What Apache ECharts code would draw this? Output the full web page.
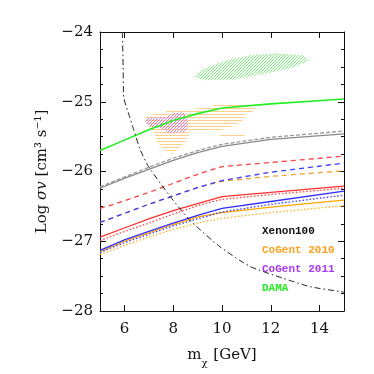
<!DOCTYPE html>
<html>
<head>
<meta charset="utf-8">
<script src="https://cdn.jsdelivr.net/npm/echarts@6/dist/echarts.min.js"></script>
<style>
  html, body { margin: 0; padding: 0; background: #fff; }
  #chart { width: 374px; height: 374px; }
</style>
</head>
<body>
<div id="chart"></div>
<script>
  var mass = [5, 6, 7, 8, 9, 10, 12, 15];
  var xTicks = [6, 8, 10, 12, 14];

  // log sigma v curves
  var greenSolid  = [-25.70, -25.55, -25.40, -25.27, -25.17, -25.09, -25.03, -24.96];
  var grayDashed  = [-26.22, -26.08, -25.94, -25.81, -25.70, -25.61, -25.51, -25.42];
  var graySolid   = [-26.24, -26.10, -25.97, -25.84, -25.73, -25.64, -25.54, -25.46];
  var redDashed   = [-26.53, -26.42, -26.30, -26.17, -26.04, -25.93, -25.87, -25.78];
  var blueDashed  = [-26.73, -26.60, -26.47, -26.35, -26.23, -26.13, -26.01, -25.88];
  var orangeDashed= [-26.73, -26.60, -26.47, -26.35, -26.23, -26.14, -26.07, -25.99];
  var redSolid    = [-26.94, -26.81, -26.68, -26.56, -26.46, -26.36, -26.30, -26.21];
  var redDotted   = [-26.99, -26.86, -26.74, -26.61, -26.49, -26.40, -26.33, -26.24];
  var blueSolid   = [-27.13, -26.98, -26.86, -26.74, -26.63, -26.53, -26.43, -26.28];
  var blueDotted  = [-27.16, -27.02, -26.90, -26.78, -26.68, -26.58, -26.47, -26.34];
  var orangeSolid = [-27.15, -27.00, -26.88, -26.76, -26.65, -26.59, -26.51, -26.41];
  var orangeDotted= [-27.19, -27.06, -26.94, -26.83, -26.74, -26.67, -26.59, -26.49];

  // dash-dot bound
  var ddX = [5.92, 5.95, 5.98, 6.2, 6.38, 6.65, 6.99, 7.88, 8.69, 9.92, 11.14, 12.5, 13.59, 14.82, 15];
  var ddY = [-24.0, -24.5, -24.95, -25.2, -25.40, -25.69, -25.93, -26.36, -26.70, -27.08, -27.36, -27.53, -27.65, -27.72, -27.73];

  // hatched regions [mass, log sigma v]
  var damaRegion = [[8.87, -24.65], [9.31, -24.69], [10.53, -24.68], [11.88, -24.59], [12.98, -24.50],
    [13.59, -24.40], [13.25, -24.33], [12.16, -24.305], [11.21, -24.33], [10.25, -24.40], [9.43, -24.50], [9.02, -24.57]];
  var cogent2010Region = [[9.84, -25.03], [10.94, -25.03], [11.39, -25.075], [11.35, -25.13], [10.94, -25.19],
    [10.82, -25.28], [10.41, -25.35], [9.84, -25.42], [8.69, -25.43], [8.57, -25.55], [8.29, -25.65],
    [7.96, -25.75], [7.71, -25.72], [7.39, -25.59], [7.14, -25.41], [6.90, -25.31], [6.82, -25.23],
    [7.06, -25.19], [7.67, -25.15], [7.80, -25.12], [8.90, -25.10], [9.59, -25.06]];
  var cogent2010Bit = [[9.92, -25.475], [10.94, -25.475], [10.94, -25.52], [9.92, -25.52]];
  var cogent2011Region = [[6.90, -25.23], [7.67, -25.22], [8.08, -25.16], [8.41, -25.15], [8.57, -25.20],
    [8.61, -25.35], [8.49, -25.43], [7.80, -25.45], [7.47, -25.38], [6.98, -25.35], [6.86, -25.29]];

  var legendNames = ['Xenon100', 'CoGent 2010', 'CoGent 2011', 'DAMA'];
  var legendColors = ['#111111', '#ffa020', '#a838f0', '#22ee22'];

  function pairs(arr) {
    return mass.map(function (m, i) { return [m, arr[i]]; });
  }

  // small tile for the hatch fill, drawn pixel by pixel
  function hatch(color, kind) {
    var c = document.createElement('canvas');
    var ctx = c.getContext('2d');
    ctx.fillStyle = color;
    if (kind === 'h') {
      c.width = 4; c.height = 3;
      ctx.fillStyle = color;
      ctx.fillRect(0, 0, 4, 1);
    } else {
      c.width = 3; c.height = 3;
      ctx.fillStyle = color;
      for (var i = 0; i < 3; i++) ctx.fillRect(i, 2 - i, 1, 1);
    }
    return { image: c, repeat: 'repeat' };
  }

  function region(pts, fill) {
    return {
      type: 'custom',
      silent: true,
      data: [[pts[0][0], pts[0][1]]],
      renderItem: function (params, api) {
        return {
          type: 'polygon',
          shape: { points: pts.map(function (p) { return api.coord(p); }) },
          style: { fill: fill, stroke: null }
        };
      }
    };
  }

  function line(arr, color, type, width) {
    return {
      type: 'line',
      data: pairs(arr),
      showSymbol: false,
      silent: true,
      lineStyle: { color: color, type: type, width: width || 1.3 },
      z: 3
    };
  }

  var chart = echarts.init(document.getElementById('chart'));
  var serif = 'DejaVu Serif';

  chart.setOption({
    animation: false,
    backgroundColor: '#fff',
    grid: { left: 100, right: 30, top: 32, bottom: 63 },
    xAxis: [{
      type: 'value', min: 5, max: 15,
      name: '{m|m}{s|χ}{m| [GeV]}',
      nameLocation: 'middle', nameGap: 32,
      nameTextStyle: {
        rich: {
          m: { fontFamily: serif, fontSize: 15, color: '#111', lineHeight: 20, verticalAlign: 'bottom' },
          s: { fontFamily: serif, fontSize: 10, color: '#111', lineHeight: 20, verticalAlign: 'bottom', padding: [0, 1, -5, 0] }
        }
      },
      axisLine: { lineStyle: { color: '#111', width: 1 } },
      axisTick: { inside: true, length: 6, customValues: xTicks, lineStyle: { color: '#111' } },
      axisLabel: { customValues: xTicks, fontFamily: serif, fontSize: 15, color: '#111', margin: 11 },
      splitLine: { show: false }
    }, {
      type: 'value', min: 5, max: 15, position: 'top',
      axisLine: { lineStyle: { color: '#111', width: 1 } },
      axisTick: { inside: true, length: 6, customValues: xTicks, lineStyle: { color: '#111' } },
      axisLabel: { show: false },
      splitLine: { show: false }
    }],
    yAxis: [{
      type: 'value', min: -28, max: -24, interval: 1,
      name: '{a|Log }{b|σv}{a| [cm³ s⁻¹]}',
      nameLocation: 'middle', nameGap: 50,
      nameTextStyle: {
        rich: {
          a: { fontFamily: serif, fontSize: 15, color: '#111' },
          b: { fontFamily: serif, fontSize: 15, fontStyle: 'italic', color: '#111' }
        }
      },
      axisLine: { show: true, lineStyle: { color: '#111', width: 1 } },
      axisTick: { inside: true, length: 6, lineStyle: { color: '#111' } },
      minorTick: { show: true, splitNumber: 4, length: 3, lineStyle: { color: '#111' } },
      axisLabel: {
        fontFamily: serif, fontSize: 15, color: '#111', margin: 7,
        formatter: function (v) { return String(v).replace('-', '\u2212'); }
      },
      splitLine: { show: false }
    }, {
      type: 'value', min: -28, max: -24, interval: 1, position: 'right',
      axisLine: { show: true, lineStyle: { color: '#111', width: 1 } },
      axisTick: { inside: true, length: 6, lineStyle: { color: '#111' } },
      minorTick: { show: true, splitNumber: 4, length: 3, lineStyle: { color: '#111' } },
      axisLabel: { show: false },
      splitLine: { show: false }
    }],
    graphic: legendNames.map(function (n, i) {
      return {
        type: 'text', left: 262, top: 226 + i * 19,
        style: { text: n, fill: legendColors[i], font: 'bold 11px "Liberation Mono"' }
      };
    }),
    series: [
      region(damaRegion, hatch('#7cf57c', 'd')),
      region(cogent2010Region, hatch('#ffd08a', 'h')),
      region(cogent2010Bit, hatch('#ffd08a', 'h')),
      region(cogent2011Region, hatch('#c77cf5', 'd')),
      line(grayDashed, '#999999', [4, 2], 1.3),
      line(graySolid, '#888888', 'solid', 1.3),
      line(redDashed, '#ff4040', [5, 4], 1.3),
      line(orangeDashed, '#f0a030', [5, 4], 1.3),
      line(blueDashed, '#3a3aff', [5, 4], 1.3),
      line(redSolid, '#ff3030', 'solid', 1.3),
      line(redDotted, '#ff4040', [1.5, 2], 1.3),
      line(orangeSolid, '#ffa500', 'solid', 1.3),
      line(orangeDotted, '#ffb020', [1.5, 2], 1.3),
      line(blueSolid, '#3030ff', 'solid', 1.3),
      line(blueDotted, '#3a3aff', [1.5, 2], 1.3),
      line(greenSolid, '#22ee22', 'solid', 1.6),
      {
        type: 'line',
        data: ddX.map(function (x, i) { return [x, ddY[i]]; }),
        showSymbol: false, silent: true, smooth: 0.2,
        lineStyle: { color: '#222', type: [6, 3, 1.5, 3], width: 1 },
        z: 4
      }
    ]
  });
</script>
</body>
</html>
